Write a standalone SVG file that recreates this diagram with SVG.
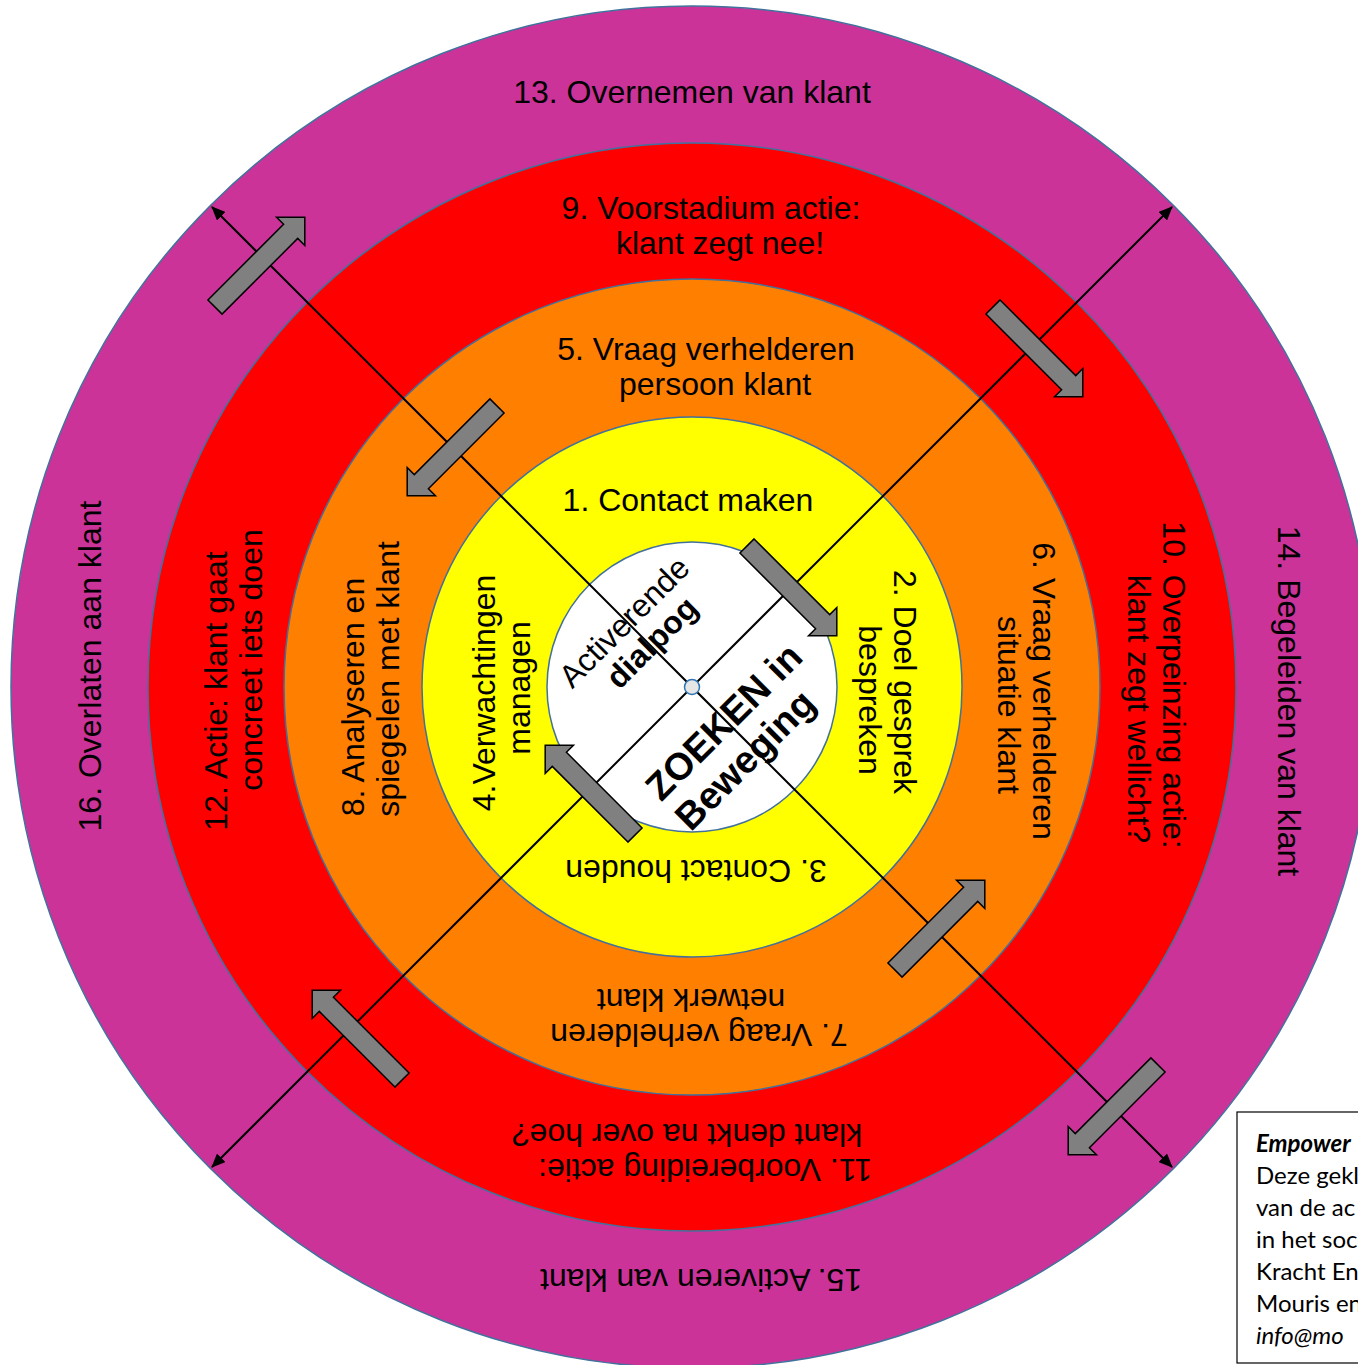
<svg xmlns="http://www.w3.org/2000/svg" xmlns:xlink="http://www.w3.org/1999/xlink" width="1358" height="1365" viewBox="0 0 1358 1365">
<style>
.ring{stroke:#41719C;stroke-width:1.5}
.t{font-family:"Liberation Sans",Arial,sans-serif;font-size:32px;fill:#000;text-anchor:middle}
.b{font-weight:bold;font-size:38px}
.conn{stroke:#000;stroke-width:2;fill:none}
.blk{fill:#808080;stroke:#000;stroke-width:1.5;stroke-linejoin:miter}
.note{font-family:Lato,"Open Sans",sans-serif;font-size:24px;fill:#000}
</style>
<defs>
<marker id="ah" viewBox="0 0 14 12" refX="13" refY="6" markerWidth="14" markerHeight="12" markerUnits="userSpaceOnUse" orient="auto-start-reverse">
<path d="M0,0 L14,6 L0,12 Z" fill="#000"/>
</marker>
<path id="blockArrow" class="blk" d="M0,-10 L107,-10 L107,-20 L127,0 L107,20 L107,10 L0,10 Z"/>
</defs>
<rect width="1358" height="1365" fill="#fff"/>

<g id="ring-outer">
<circle class="ring" cx="692" cy="687" r="681" fill="#CC3399"/>
</g>
<g id="ring-red">
<circle class="ring" cx="692" cy="687" r="544" fill="#FF0000"/>
</g>
<g id="ring-orange">
<circle class="ring" cx="692" cy="687" r="408" fill="#FF7F00"/>
</g>
<g id="ring-yellow">
<circle class="ring" cx="692" cy="687" r="270" fill="#FFFF00"/>
</g>
<g id="core">
<circle class="ring" cx="692" cy="687" r="145" fill="#FFFFFF"/>
</g>

<g id="connectors">
<line class="conn" x1="212" y1="207" x2="1172" y2="1167" marker-start="url(#ah)" marker-end="url(#ah)"/>
<line class="conn" x1="212" y1="1167" x2="1172" y2="207" marker-start="url(#ah)" marker-end="url(#ah)"/>
</g>

<g id="flow-arrows">
<use xlink:href="#blockArrow" href="#blockArrow" transform="translate(215,307) rotate(-45)"/>
<use xlink:href="#blockArrow" href="#blockArrow" transform="translate(497,406) rotate(135)"/>
<use xlink:href="#blockArrow" href="#blockArrow" transform="translate(993,307) rotate(45)"/>
<use xlink:href="#blockArrow" href="#blockArrow" transform="translate(747,546) rotate(45)"/>
<use xlink:href="#blockArrow" href="#blockArrow" transform="translate(635,835) rotate(-135)"/>
<use xlink:href="#blockArrow" href="#blockArrow" transform="translate(895,970) rotate(-45)"/>
<use xlink:href="#blockArrow" href="#blockArrow" transform="translate(402,1080) rotate(-135)"/>
<use xlink:href="#blockArrow" href="#blockArrow" transform="translate(1158,1065) rotate(135)"/>
</g>

<g id="hub">
<circle cx="692" cy="687" r="7.5" fill="#E6E6E6" stroke="#2E75B6" stroke-width="1.5"/>
</g>

<g id="labels-outer">
<text class="t" x="692" y="103">13. Overnemen van klant</text>
<text class="t" transform="translate(1278,701) rotate(90)">14. Begeleiden van klant</text>
<text class="t" transform="translate(701,1269) rotate(180)">15. Activeren van klant</text>
<text class="t" transform="translate(101,666) rotate(-90)">16. Overlaten aan klant</text>
</g>
<g id="labels-red">
<text class="t" x="711" y="219">9. Voorstadium actie:</text>
<text class="t" x="720" y="254">klant zegt nee!</text>
<text class="t" transform="translate(1163,685) rotate(90)">10. Overpeinzing actie:</text>
<text class="t" transform="translate(1128,709) rotate(90)">klant zegt wellicht?</text>
<text class="t" transform="translate(705,1159) rotate(180)">11. Voorbereiding actie:</text>
<text class="t" transform="translate(687,1124) rotate(180)">klant denkt na over hoe?</text>
<text class="t" transform="translate(227,691) rotate(-90)">12. Actie: klant gaat</text>
<text class="t" transform="translate(262,660) rotate(-90)">concreet iets doen</text>
</g>
<g id="labels-orange">
<text class="t" x="706" y="360">5. Vraag verhelderen</text>
<text class="t" x="715" y="395">persoon klant</text>
<text class="t" transform="translate(1033,691) rotate(90)">6. Vraag verhelderen</text>
<text class="t" transform="translate(998,705) rotate(90)">situatie klant</text>
<text class="t" transform="translate(699,1024) rotate(180)">7. Vraag verhelderen</text>
<text class="t" transform="translate(691,989) rotate(180)">netwerk klant</text>
<text class="t" transform="translate(364,697) rotate(-90)">8. Analyseren en</text>
<text class="t" transform="translate(399,679) rotate(-90)">spiegelen met klant</text>
</g>
<g id="labels-yellow">
<text class="t" x="688" y="511">1. Contact maken</text>
<text class="t" transform="translate(894,682) rotate(90)">2. Doel gesprek</text>
<text class="t" transform="translate(859,700) rotate(90)">bespreken</text>
<text class="t" transform="translate(696,860) rotate(180)">3. Contact houden</text>
<text class="t" transform="translate(495,693) rotate(-90)">4.Verwachtingen</text>
<text class="t" transform="translate(530,688) rotate(-90)">managen</text>
</g>
<g id="labels-core" transform="translate(692,687) rotate(-45)">
<text class="t" x="-2" y="-83">Activerende</text>
<text class="t" x="3" y="-49" font-weight="bold">dialpog</text>
<text class="t b" x="-2" y="60">ZOEKEN in</text>
<text class="t b" x="-14" y="102">Beweging</text>
</g>

<g id="note">
<rect x="1237" y="1112" width="130" height="251" fill="#fff" stroke="#000" stroke-width="1.2"/>
<text class="note" x="1256" y="1152" font-weight="bold" font-style="italic">Empower</text>
<text class="note" x="1256" y="1184">Deze gekl</text>
<text class="note" x="1256" y="1216">van de ac</text>
<text class="note" x="1256" y="1248">in het soc</text>
<text class="note" x="1256" y="1280">Kracht En</text>
<text class="note" x="1256" y="1312">Mouris en</text>
<text class="note" x="1256" y="1344" font-style="italic">info@mo</text>
</g>
</svg>
